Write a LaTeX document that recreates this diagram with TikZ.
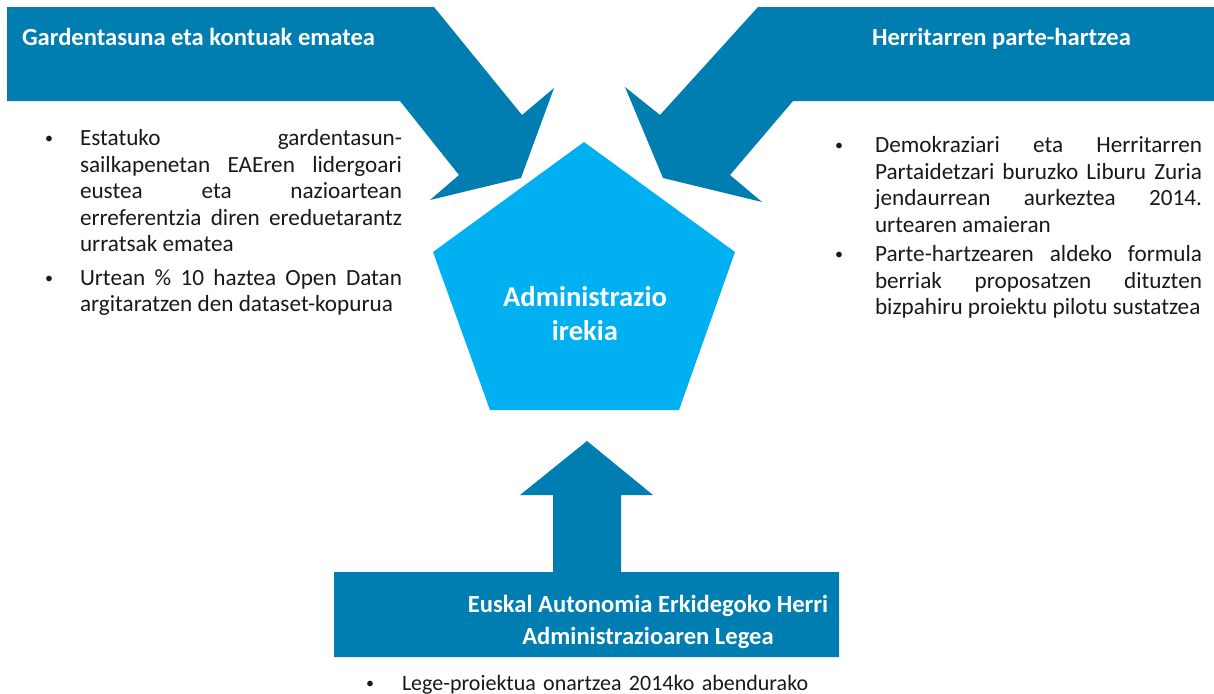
\documentclass[tikz,border=0pt]{standalone}
\usepackage{fontspec}
\setmainfont{Carlito}
\usepackage{enumitem}
\usepackage{xcolor}
\usetikzlibrary{positioning}

\definecolor{bandblue}{RGB}{0,126,177}
\definecolor{coreblue}{RGB}{0,176,240}
\definecolor{bodytext}{RGB}{25,25,25}

\newcommand{\bodyfont}{\fontsize{11.6}{13.25}\selectfont\tolerance=10000\hbadness=10000\relax}
\newcommand{\smallbullet}{\raisebox{0.15ex}{\fontsize{8}{8}\selectfont\textbullet}}
\setlist[itemize]{label=\smallbullet,align=left,labelindent=0pt,labelwidth=5pt,labelsep=*,
    topsep=0pt,partopsep=0pt,parsep=0pt,itemsep=3pt}

\begin{document}
\begin{tikzpicture}[
    x=0.5pt,y=-0.5pt, % one unit = one pixel of the sketch
    outer sep=0pt,inner sep=0pt,
    band/.style={fill=bandblue},
    core/.style={fill=coreblue},
    headtext/.style={text=white,font=\fontsize{12.3}{16}\selectfont\bfseries,align=center},
    bodyblock/.style={text=bodytext,font=\bodyfont,align=justify},
    ]
    \useasboundingbox (0,0) rectangle (1214,693);

    % three banners, each ending in an arrow pointing at the core
    \fill [band] (7,7) -- (434,7) -- (522,115) -- (554,88) -- (521,178)
        -- (430,200) -- (459,175) -- (400,101) -- (7,101) -- cycle;
    \fill [band] (1214,7) -- (758,7) -- (660,115) -- (625,87) -- (663,178)
        -- (762,202) -- (730,175) -- (793,101) -- (1214,101) -- cycle;
    \fill [band] (334,572) -- (553,572) -- (553,495) -- (520,495) -- (587,441)
        -- (653,495) -- (621,495) -- (621,572) -- (839,572) -- (839,657) -- (334,657) -- cycle;

    % the core pentagon
    \fill [core] (584,142) -- (735,252) -- (679,410) -- (490,410) -- (433,252) -- cycle;
    \node (core) at (585,314) [headtext,font=\fontsize{14.3}{17}\selectfont\bfseries] {Administrazio\\irekia};

    \node (transp) [headtext,anchor=base west] at (22,45) {Gardentasuna eta kontuak ematea};
    \node (partic) [headtext,anchor=base west] at (872,45) {Herritarren parte-hartzea};
    \node (lege)   [headtext] at (648,622) {Euskal Autonomia Erkidegoko Herri\\Administrazioaren Legea};

    \node (transplist) [bodyblock,text width=178.5pt,anchor=north west] at (45,119) {%
        \begin{itemize}[leftmargin=17.5pt,itemsep=3.5pt]
        \item Estatuko gardentasun-\linebreak sailkapenetan EAEren lidergoari\linebreak
            eustea eta nazioartean\linebreak erreferentzia diren ereduetarantz\linebreak
            urratsak ematea
        \item Urtean \% 10 haztea Open Datan\linebreak argitaratzen den dataset-kopurua
        \end{itemize}};

    \node (particlist) [bodyblock,text width=183.5pt,anchor=north west] at (835,126) {%
        \begin{itemize}[leftmargin=20pt,itemsep=1.5pt]
        \item Demokraziari eta Herritarren\linebreak Partaidetzari buruzko Liburu Zuria\linebreak
            jendaurrean aurkeztea 2014.\linebreak urtearen amaieran
        \item Parte-hartzearen aldeko formula\linebreak berriak proposatzen dituzten\linebreak
            bizpahiru proiektu pilotu sustatzea
        \end{itemize}};

    \node (legelist) [bodyblock,font=\fontsize{11}{13}\selectfont,align=left,text width=240pt,anchor=north west] at (366,664) {%
        \begin{itemize}[leftmargin=18pt]
        \item Lege-proiektua onartzea 2014ko abendurako
        \end{itemize}};
\end{tikzpicture}
\end{document}
